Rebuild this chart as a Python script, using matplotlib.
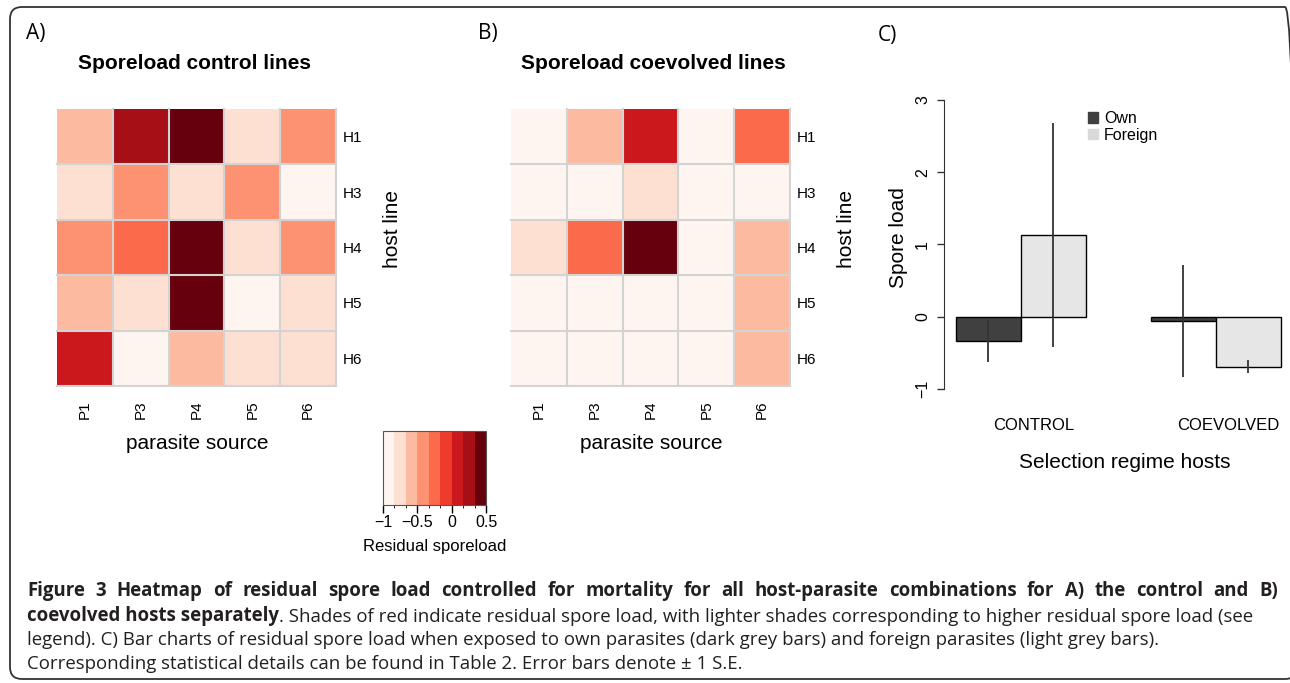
import numpy as np
import matplotlib
matplotlib.use("Agg")
from matplotlib import pyplot as plt
from matplotlib import colors
from matplotlib import transforms
from matplotlib.cm import ScalarMappable
from matplotlib.patches import FancyBboxPatch, Patch

W, H = 1290, 683

# ---- data ----
hosts = ["H1", "H3", "H4", "H5", "H6"]
parasites = ["P1", "P3", "P4", "P5", "P6"]

# residual sporeload, rows = hosts, cols = parasites
control_resid = [
    [-0.58, 0.25, 0.42, -0.75, -0.42],
    [-0.75, -0.42, -0.75, -0.42, -0.92],
    [-0.42, -0.25, 0.42, -0.75, -0.42],
    [-0.58, -0.75, 0.42, -0.92, -0.75],
    [0.08, -0.92, -0.58, -0.75, -0.75],
]
coevolved_resid = [
    [-0.92, -0.58, 0.08, -0.92, -0.25],
    [-0.92, -0.92, -0.75, -0.92, -0.92],
    [-0.75, -0.25, 0.42, -0.92, -0.58],
    [-0.92, -0.92, -0.92, -0.92, -0.58],
    [-0.92, -0.92, -0.92, -0.92, -0.58],
]
cbar_ticks = [-1, -0.5, 0, 0.5]
cbar_labels = ["\u22121", "\u22120.5", "0", "0.5"]

regimes = ["CONTROL", "COEVOLVED"]
own_mean = [-0.33, -0.06]
own_se = [0.29, 0.77]
foreign_mean = [1.13, -0.69]
foreign_se = [1.55, 0.09]
bar_yticks = [-1, 0, 1, 2, 3]

reds9 = ["#fff5f0", "#fee0d2", "#fcbba1", "#fc9272", "#fb6a4a",
         "#ef3b2c", "#cb181d", "#a50f15", "#67000d"]
cmap = colors.ListedColormap(reds9)
norm = colors.BoundaryNorm(np.linspace(-1, 0.5, 10), cmap.N)

RFONT = "Liberation Sans"
CFONT = "Open Sans"
plt.rcParams["font.family"] = RFONT


def px_axes(fig, x0, y0, x1, y1):
    return fig.add_axes([x0 / W, 1 - y1 / H, (x1 - x0) / W, (y1 - y0) / H])


def heatmap(ax, data, title, title_x):
    ax.pcolormesh(np.arange(6), np.arange(6), np.array(data), cmap=cmap, norm=norm)
    ax.set_xlim(0, 5)
    ax.set_ylim(5, 0)
    for k in range(1, 6):
        ax.axvline(k, color="#d3d3d3", lw=1.5, clip_on=False)
        ax.axhline(k, color="#d3d3d3", lw=1.5, clip_on=False)
    for s in ax.spines.values():
        s.set_visible(False)
    ax.set_xticks(np.arange(5) + 0.5)
    ax.set_xticklabels(parasites, rotation=90, fontsize=11)
    ax.set_yticks(np.arange(5) + 0.5)
    ax.set_yticklabels(hosts, fontsize=11)
    ax.yaxis.tick_right()
    ax.tick_params(axis="x", length=0, pad=10)
    ax.tick_params(axis="y", length=0, pad=4.5)
    ax.set_title(title, fontsize=15, fontweight="bold", x=title_x, y=1.166,
                 va="center", pad=0)
    ax.text(1.202, 0.567, "host line", transform=ax.transAxes, rotation=90,
            ha="center", va="center", fontsize=15)
    ax.text(0.502, -0.206, "parasite source", transform=ax.transAxes,
            ha="center", va="center", fontsize=15)


fig = plt.figure(figsize=(W / 100, H / 100), dpi=100)

ax_a = px_axes(fig, 57, 109, 336, 386)
heatmap(ax_a, control_resid, "Sporeload control lines", 0.494)
ax_b = px_axes(fig, 511, 109, 790, 386)
heatmap(ax_b, coevolved_resid, "Sporeload coevolved lines", 0.511)

# colour key
cax = px_axes(fig, 383, 431, 486, 505)
cb = fig.colorbar(ScalarMappable(norm=norm, cmap=cmap), cax=cax,
                  orientation="horizontal", ticks=cbar_ticks)
cb.set_ticklabels(cbar_labels)
cb.outline.set_edgecolor("#555555")
cb.outline.set_linewidth(0.8)
cax.tick_params(axis="x", length=5.5, width=1, labelsize=11.5, pad=2)
fig.text(435 / W, 1 - 546 / H, "Residual sporeload", ha="center", va="center", fontsize=12)

# bar chart
ax_c = px_axes(fig, 944, 91.3, 1287, 397.7)
own_x = np.array([0.5, 3.5])
for_x = own_x + 1
ax_c.bar(own_x, own_mean, width=1, color="#404040", edgecolor="black", lw=1)
ax_c.bar(for_x, foreign_mean, width=1, color="#e6e6e6", edgecolor="black", lw=1)
ax_c.vlines(own_x, np.array(own_mean) - own_se, np.array(own_mean) + own_se,
            color="#333333", lw=1.3, zorder=3)
ax_c.vlines(for_x, np.array(foreign_mean) - foreign_se, np.array(foreign_mean) + foreign_se,
            color="#333333", lw=1.3, zorder=3)
ax_c.set_xlim(-0.18, 5.1)
ax_c.set_ylim(-1.12, 3.12)
for s in ["top", "right", "bottom"]:
    ax_c.spines[s].set_visible(False)
ax_c.spines["left"].set_bounds(-1, 3)
ax_c.spines["left"].set_color("#333333")
ax_c.set_xticks([])
ax_c.set_yticks(bar_yticks)
ax_c.set_yticklabels([str(v).replace("-", "\u2212") for v in bar_yticks],
                     rotation=90, va="center", fontsize=11.5)
ax_c.tick_params(axis="y", length=5, width=1, color="#333333", pad=5)
ax_c.set_ylabel("Spore load", fontsize=15)
ax_c.yaxis.set_label_coords(-0.105, 0.524)
blend = transforms.blended_transform_factory(ax_c.transData, ax_c.transAxes)
for xc, name in zip(own_x + 0.7, regimes):
    ax_c.text(xc, -0.092, name, transform=blend, ha="center", va="center", fontsize=12)
ax_c.text(0.528, -0.21, "Selection regime hosts", transform=ax_c.transAxes,
          ha="center", va="center", fontsize=15)
ax_c.legend(handles=[Patch(color="#404040", label="Own"),
                     Patch(color="#d9d9d9", label="Foreign")],
            loc="upper left", bbox_to_anchor=(0.419, 0.935), frameon=False,
            fontsize=11.5, handlelength=0.62, handleheight=0.62,
            handletextpad=0.4, labelspacing=0.1, borderpad=0, borderaxespad=0)

# panel letters
for x, y, lab in [(26, 33, "A)"), (478, 33, "B)"), (878, 36, "C)")]:
    fig.text(x / W, 1 - y / H, lab, family=CFONT, fontsize=15, ha="left", va="center")

# caption (first line is justified to the frame width)
cap_x0, cap_x1 = 27, 1278
cap_size = 13.4
cap_col = "#231f20"
title_line = ("Figure 3 Heatmap of residual spore load controlled for mortality for all "
              "host-parasite combinations for A) the control and B)")
renderer = fig.canvas.get_renderer()
words = [fig.text(0, 1 - 591 / H, w, family=CFONT, fontweight="bold",
                  fontsize=cap_size, color=cap_col, va="center")
         for w in title_line.split(" ")]
widths = [t.get_window_extent(renderer).width for t in words]
gap = (cap_x1 - cap_x0 - sum(widths)) / (len(words) - 1)
xpos = cap_x0
for t, w in zip(words, widths):
    t.set_x(xpos / W)
    xpos += w + gap

t2 = fig.text(cap_x0 / W, 1 - 616 / H, "coevolved hosts separately", family=CFONT,
              fontweight="bold", fontsize=cap_size, color=cap_col, va="center")
ax_c.annotate(". Shades of red indicate residual spore load, with lighter shades "
              "corresponding to higher residual spore load (see",
              xy=(1, 0), xycoords=t2, ha="left", va="bottom",
              family=CFONT, fontsize=cap_size, color=cap_col, annotation_clip=False)
fig.text(cap_x0 / W, 1 - 640 / H,
         "legend). C) Bar charts of residual spore load when exposed to own parasites "
         "(dark grey bars) and foreign parasites (light grey bars).",
         family=CFONT, fontsize=cap_size, color=cap_col, va="center")
fig.text(cap_x0 / W, 1 - 664 / H,
         "Corresponding statistical details can be found in Table 2. "
         "Error bars denote \u00b1 1 S.E.",
         family=CFONT, fontsize=cap_size, color=cap_col, va="center")

# outer frame
frame = FancyBboxPatch((0.10, 0.04), 12.87, 6.72,
                       boxstyle="round,pad=0,rounding_size=0.12",
                       transform=fig.dpi_scale_trans, fill=False,
                       edgecolor="#333333", lw=1.3)
fig.patches.append(frame)

fig.savefig("out.png", dpi=100)
